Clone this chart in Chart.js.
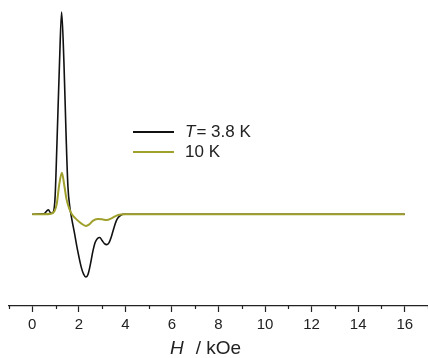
<!DOCTYPE html>
<html>
<head>
<meta charset="utf-8">
<script src="https://cdn.jsdelivr.net/npm/chart.js@4/dist/chart.umd.min.js"></script>
<style>
    html, body { margin: 0; padding: 0; background: #fff; }
    #wrap { width: 428px; height: 358px; }
</style>
</head>
<body>
<div id="wrap"><canvas id="chart" width="428" height="358"></canvas></div>
<script>
'use strict';

// поле, kOe
const fieldLow = [0, 0.5, 0.69, 0.8, 0.9, 0.98, 1.06, 1.17, 1.26, 1.36, 1.45, 1.53, 1.62, 1.7,
    1.8, 1.95, 2.1, 2.2, 2.3, 2.4, 2.5, 2.6, 2.7, 2.8, 2.9, 3.0, 3.1, 3.2, 3.3, 3.4, 3.5,
    3.6, 3.7, 3.8, 3.9, 4.2, 6, 8, 10, 12, 14, 16];
// сигнал при T = 3.8 K (отн. ед.)
const signalLow = [0, 0.5, 4.5, 1, 2, 17, 70, 150, 200, 150, 80, 28, 6, -5,
    -17, -36, -52, -59, -62, -59, -49, -37, -28, -24, -23, -26, -29, -30, -28, -22, -14,
    -7, -3, -1, 0, 0, 0, 0, 0, 0, 0, 0];

const fieldHigh = [0, 0.5, 0.8, 0.95, 1.05, 1.15, 1.27, 1.38, 1.47, 1.6, 1.7, 1.9, 2.1,
    2.3, 2.45, 2.6, 2.8, 3.0, 3.2, 3.4, 3.6, 3.8, 4.0, 6, 8, 10, 12, 14, 16];
// сигнал при T = 10 K
const signalHigh = [0, 0, 0.5, 3, 10, 28, 41, 28, 15, 5, 0, -5, -9,
    -11.5, -10, -6.5, -4.7, -5, -5.7, -4, -1.5, -0.3, 0, 0, 0, 0, 0, 0, 0];

const seriesLabels = ['T = 3.8 K', '10 K'];
const seriesColors = ['#111111', '#a0a02c'];
const majorTicks = [0, 2, 4, 6, 8, 10, 12, 14, 16];

const toPoints = (xs, ys) => xs.map((x, i) => ({ x: x, y: ys[i] }));

// легенда внутри области графика, первая буква курсивом
const innerLegend = {
    id: 'innerLegend',
    afterDraw(chart) {
        const ctx = chart.ctx;
        ctx.save();
        chart.data.datasets.forEach((ds, i) => {
            const y = 132 + i * 20;
            ctx.strokeStyle = ds.borderColor;
            ctx.lineWidth = 2;
            ctx.beginPath();
            ctx.moveTo(133, y);
            ctx.lineTo(174, y);
            ctx.stroke();
            ctx.fillStyle = '#222';
            ctx.textBaseline = 'middle';
            let x = 185;
            let text = ds.label;
            if (text.startsWith('T ')) {
                ctx.font = 'italic 17px "Liberation Sans", Arial, sans-serif';
                ctx.fillText('T', x, y);
                x += ctx.measureText('T').width + 1;
                text = text.slice(2);
            }
            ctx.font = '17px "Liberation Sans", Arial, sans-serif';
            ctx.fillText(text, x, y);
        });
        ctx.restore();
    }
};

// мелкие засечки и подпись оси
const axisExtras = {
    id: 'axisExtras',
    afterDraw(chart) {
        const ctx = chart.ctx;
        const sx = chart.scales.x;
        const y0 = chart.chartArea.bottom;
        ctx.save();
        ctx.strokeStyle = '#222';
        ctx.lineWidth = 1.2;
        sx.ticks.forEach((t) => {
            if (majorTicks.includes(t.value)) return;
            const px = Math.round(sx.getPixelForValue(t.value)) + 0.5;
            ctx.beginPath();
            ctx.moveTo(px, y0);
            ctx.lineTo(px, y0 + 3);
            ctx.stroke();
        });
        ctx.fillStyle = '#222';
        ctx.textBaseline = 'alphabetic';
        let x = 170;
        ctx.font = 'italic 19px "Liberation Sans", Arial, sans-serif';
        ctx.fillText('H', x, 354);
        x += ctx.measureText('H').width + 12;
        ctx.font = '19px "Liberation Sans", Arial, sans-serif';
        ctx.fillText('/ kOe', x, 354);
        ctx.restore();
    }
};

const cfg = {
    type: 'line',
    data: {
        datasets: [
            {
                label: seriesLabels[0],
                data: toPoints(fieldLow, signalLow),
                borderColor: seriesColors[0],
                borderWidth: 1.6,
                pointRadius: 0,
                cubicInterpolationMode: 'monotone',
                order: 2,
            },
            {
                label: seriesLabels[1],
                data: toPoints(fieldHigh, signalHigh),
                borderColor: seriesColors[1],
                borderWidth: 2,
                pointRadius: 0,
                cubicInterpolationMode: 'monotone',
                order: 1,
            },
        ],
    },
    options: {
        responsive: false,
        animation: false,
        layout: { padding: { left: 9, right: 0, top: 7, bottom: 20 } },
        plugins: {
            legend: { display: false },
            tooltip: { enabled: false },
        },
        scales: {
            x: {
                type: 'linear',
                min: -1,
                max: 17,
                afterFit: (scale) => {
                    // ось до самого края холста
                    scale.paddingLeft = 0;
                    scale.paddingRight = 0;
                },
                grid: {
                    drawOnChartArea: false,
                    drawTicks: true,
                    tickLength: 6,
                    tickWidth: 1.2,
                    tickColor: (c) => (majorTicks.includes(c.tick.value) ? '#222' : 'rgba(0,0,0,0)'),
                },
                border: { display: true, color: '#222', width: 1.3 },
                ticks: {
                    stepSize: 1,
                    autoSkip: false,
                    maxRotation: 0,
                    padding: 4,
                    color: '#222',
                    font: { family: '"Liberation Sans", Arial, sans-serif', size: 15 },
                    callback: (v) => (majorTicks.includes(v) ? String(v) : ''),
                },
            },
            y: {
                display: false,
                min: -90.7,
                max: 205,
            },
        },
    },
    plugins: [innerLegend, axisExtras],
};

new Chart(document.getElementById('chart').getContext('2d'), cfg);
</script>
</body>
</html>
